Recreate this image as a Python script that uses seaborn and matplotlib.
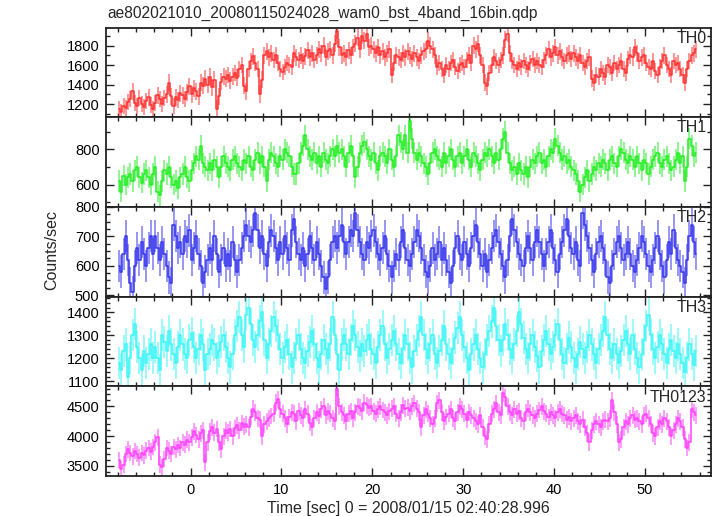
import matplotlib
matplotlib.use("Agg")
import matplotlib.pyplot as plt
import numpy as np
import pandas as pd
import seaborn as sns
from matplotlib.ticker import MultipleLocator

# light-curve bins: 0.25 s wide, first bin centre at -7.875 s
t_start, t_bin = -7.875, 0.25

th0 = [
    1150, 1120, 1180, 1160, 1220, 1250, 1330, 1210, 1180, 1260, 1200, 1170,
    1230, 1270, 1190, 1150, 1210, 1290, 1250, 1200, 1260, 1300, 1420, 1280,
    1180, 1270, 1240, 1310, 1290, 1250, 1320, 1380, 1300, 1360, 1330, 1280,
    1420, 1390, 1460, 1400, 1480, 1370, 1450, 1150, 1280, 1430, 1480, 1460,
    1500, 1440, 1480, 1520, 1470, 1560, 1600, 1390, 1330, 1560, 1640, 1690,
    1620, 1560, 1300, 1450, 1700, 1740, 1680, 1720, 1650, 1700, 1620, 1560,
    1530, 1580, 1620, 1600, 1580, 1720, 1680, 1650, 1700, 1640, 1690, 1750,
    1680, 1720, 1650, 1700, 1760, 1720, 1800, 1680, 1740, 1760, 1700, 1820,
    1950, 1780, 1700, 1720, 1680, 1750, 1700, 1780, 1820, 1880, 1760, 1900,
    1850, 1920, 1780, 1800, 1760, 1720, 1780, 1700, 1740, 1680, 1720, 1760,
    1500, 1620, 1700, 1680, 1650, 1720, 1680, 1740, 1700, 1660, 1720, 1680,
    1640, 1700, 1740, 1760, 1850, 1800, 1760, 1700, 1580, 1620, 1560, 1500,
    1600, 1560, 1620, 1650, 1580, 1540, 1600, 1620, 1580, 1650, 1700, 1620,
    1800, 1760, 1820, 1700, 1600, 1420, 1380, 1520, 1600, 1680, 1640, 1600,
    1650, 1700, 1860, 1920, 1720, 1640, 1600, 1560, 1620, 1580, 1640, 1600,
    1560, 1620, 1660, 1600, 1640, 1600, 1580, 1650, 1700, 1760, 1680, 1720,
    1780, 1700, 1740, 1680, 1640, 1700, 1720, 1660, 1720, 1680, 1640, 1700,
    1620, 1580, 1640, 1680, 1460, 1420, 1500, 1480, 1560, 1520, 1480, 1600,
    1580, 1520, 1620, 1560, 1600, 1640, 1560, 1520, 1660, 1700, 1680, 1780,
    1720, 1640, 1680, 1700, 1620, 1580, 1560, 1640, 1540, 1500, 1580, 1640,
    1700, 1600, 1560, 1500, 1640, 1600, 1620, 1560, 1500, 1420, 1560, 1640,
    1700, 1720, 1760,
]

th1 = [
    620, 560, 650, 600, 640, 660, 620, 680, 700, 640, 610, 660,
    680, 640, 600, 660, 700, 560, 540, 620, 680, 660, 700, 640,
    600, 620, 580, 640, 660, 700, 640, 620, 680, 720, 760, 740,
    820, 720, 700, 680, 720, 680, 740, 700, 640, 700, 760, 720,
    700, 680, 740, 760, 720, 700, 680, 740, 720, 760, 700, 680,
    740, 780, 720, 760, 700, 620, 740, 780, 760, 720, 700, 760,
    740, 800, 780, 760, 700, 660, 660, 720, 780, 820, 880, 800,
    760, 740, 780, 720, 760, 700, 780, 740, 720, 760, 800, 760,
    820, 780, 800, 760, 700, 780, 820, 760, 640, 700, 780, 820,
    840, 800, 760, 740, 780, 720, 680, 760, 780, 760, 720, 800,
    740, 700, 760, 880, 840, 800, 880, 780, 960, 860, 780, 740,
    780, 760, 720, 700, 660, 720, 780, 800, 760, 740, 700, 780,
    720, 760, 800, 740, 700, 760, 780, 720, 760, 800, 740, 700,
    780, 760, 720, 680, 740, 780, 760, 800, 760, 720, 780, 740,
    800, 860, 900, 780, 720, 680, 700, 660, 720, 680, 660, 700,
    640, 700, 740, 720, 760, 780, 720, 740, 700, 760, 800, 780,
    860, 820, 780, 740, 760, 720, 740, 700, 680, 660, 620, 560,
    600, 640, 680, 620, 660, 700, 680, 720, 700, 740, 720, 680,
    740, 760, 720, 700, 760, 800, 780, 740, 720, 760, 740, 700,
    760, 720, 680, 740, 720, 660, 700, 740, 760, 780, 720, 700,
    740, 760, 720, 680, 700, 740, 780, 720, 760, 620, 700, 860,
    820, 760, 780,
]

th2 = [
    600, 580, 640, 700, 620, 540, 510, 600, 660, 620, 680, 640,
    600, 660, 700, 640, 700, 660, 620, 680, 640, 600, 560, 540,
    740, 700, 660, 680, 640, 700, 680, 720, 620, 660, 700, 640,
    600, 540, 580, 620, 660, 620, 700, 640, 580, 620, 660, 600,
    640, 600, 680, 620, 580, 620, 660, 700, 740, 700, 680, 720,
    780, 720, 660, 700, 640, 600, 680, 720, 700, 660, 620, 680,
    640, 700, 660, 620, 720, 760, 680, 640, 620, 660, 600, 640,
    700, 660, 620, 680, 640, 600, 560, 520, 560, 620, 680, 700,
    660, 700, 740, 680, 640, 680, 720, 700, 780, 720, 680, 640,
    620, 680, 660, 700, 720, 680, 640, 620, 660, 700, 640, 600,
    560, 600, 640, 620, 680, 720, 660, 620, 600, 640, 680, 720,
    700, 660, 620, 580, 560, 600, 660, 620, 640, 680, 620, 660,
    620, 580, 540, 600, 660, 700, 640, 620, 680, 640, 600, 660,
    700, 740, 680, 640, 600, 640, 580, 620, 660, 700, 720, 680,
    640, 600, 560, 620, 700, 760, 720, 680, 640, 620, 600, 660,
    700, 660, 620, 680, 720, 680, 640, 600, 640, 680, 720, 660,
    620, 580, 640, 680, 720, 760, 700, 660, 640, 680, 620, 600,
    780, 740, 700, 660, 620, 580, 640, 680, 700, 660, 620, 560,
    540, 600, 640, 680, 700, 660, 620, 640, 680, 640, 600, 580,
    620, 660, 700, 680, 640, 600, 580, 620, 660, 700, 640, 600,
    560, 620, 680, 640, 720, 660, 620, 600, 580, 540, 620, 700,
    740, 680, 640,
]

th3 = [
    1180, 1150, 1230, 1260, 1120, 1200, 1300, 1350, 1250, 1200, 1150, 1230,
    1180, 1220, 1260, 1200, 1250, 1200, 1150, 1300, 1270, 1230, 1320, 1260,
    1220, 1180, 1250, 1300, 1260, 1220, 1200, 1280, 1310, 1250, 1200, 1240,
    1300, 1260, 1150, 1220, 1240, 1280, 1260, 1200, 1230, 1270, 1300, 1250,
    1200, 1160, 1220, 1300, 1340, 1380, 1300, 1250, 1390, 1420, 1350, 1280,
    1250, 1300, 1360, 1400, 1280, 1200, 1260, 1320, 1380, 1340, 1300, 1240,
    1200, 1250, 1280, 1220, 1160, 1200, 1260, 1300, 1240, 1200, 1180, 1230,
    1270, 1320, 1260, 1200, 1160, 1220, 1280, 1240, 1200, 1260, 1380, 1300,
    1220, 1150, 1260, 1300, 1260, 1220, 1280, 1340, 1300, 1250, 1210, 1260,
    1230, 1280, 1300, 1240, 1220, 1180, 1250, 1300, 1340, 1260, 1200, 1240,
    1280, 1320, 1260, 1220, 1180, 1240, 1300, 1260, 1200, 1160, 1230, 1280,
    1320, 1380, 1300, 1240, 1200, 1260, 1300, 1220, 1180, 1230, 1280, 1340,
    1260, 1220, 1180, 1240, 1290, 1330, 1380, 1300, 1250, 1200, 1150, 1220,
    1260, 1300, 1240, 1200, 1160, 1220, 1280, 1320, 1360, 1420, 1340, 1280,
    1230, 1280, 1350, 1300, 1240, 1200, 1260, 1320, 1400, 1350, 1290, 1240,
    1200, 1260, 1300, 1250, 1210, 1160, 1230, 1280, 1320, 1260, 1220, 1250,
    1300, 1350, 1280, 1220, 1180, 1240, 1290, 1250, 1200, 1160, 1220, 1270,
    1240, 1200, 1250, 1300, 1260, 1220, 1180, 1240, 1280, 1320, 1380, 1300,
    1240, 1200, 1260, 1220, 1180, 1230, 1280, 1320, 1260, 1220, 1300, 1240,
    1200, 1160, 1220, 1280, 1340, 1390, 1300, 1240, 1200, 1250, 1300, 1260,
    1220, 1180, 1240, 1280, 1230, 1200, 1260, 1220, 1180, 1140, 1200, 1260,
    1220, 1170, 1230,
]

th0123 = [
    3600, 3450, 3520, 3700, 3780, 3720, 3660, 3750, 3700, 3640, 3720, 3680,
    3760, 3800, 3740, 3820, 3900, 3980, 3520, 3480, 3620, 3800, 3760, 3700,
    3820, 3780, 3850, 3800, 3900, 3860, 3940, 3900, 3980, 4080, 4020, 3950,
    4050, 4100, 3560, 3900, 4080, 4150, 4060, 4120, 3900, 3780, 4000, 4100,
    4060, 4120, 4000, 4140, 4180, 4100, 4220, 4160, 4200, 4150, 4320, 4460,
    4400, 4300, 4280, 4000, 4200, 4250, 4300, 4340, 4380, 4560, 4620, 4450,
    4380, 4300, 4200, 4320, 4400, 4380, 4250, 4420, 4350, 4300, 4450, 4380,
    4220, 4150, 4300, 4400, 4340, 4450, 4500, 4350, 4420, 4380, 4300, 4250,
    4800, 4500, 4400, 4350, 4250, 4380, 4420, 4300, 4400, 4500, 4480, 4420,
    4560, 4520, 4480, 4500, 4420, 4380, 4450, 4500, 4440, 4400, 4350, 4420,
    4460, 4500, 4380, 4300, 4400, 4520, 4460, 4480, 4420, 4500, 4550, 4460,
    4400, 4150, 4350, 4450, 4380, 4300, 4200, 4300, 4550, 4600, 4400, 4250,
    4320, 4380, 4450, 4300, 4250, 4400, 4500, 4450, 4380, 4280, 4400, 4350,
    4300, 4250, 4200, 4350, 4150, 4000, 3950, 4200, 4380, 4450, 4550, 4400,
    4350, 4720, 4650, 4500, 4400, 4350, 4450, 4380, 4420, 4300, 4250, 4400,
    4460, 4400, 4350, 4300, 4380, 4440, 4500, 4420, 4380, 4320, 4400, 4350,
    4300, 4400, 4450, 4380, 4350, 4280, 4320, 4250, 4300, 4350, 4250, 4200,
    4280, 4150, 4050, 3900, 4100, 4200, 4250, 4200, 4150, 4250, 4280, 4250,
    4300, 4600, 4400, 4200, 3900, 3950, 4150, 4250, 4200, 4300, 4350, 4280,
    4300, 4250, 4200, 4350, 4380, 4300, 4200, 4050, 4000, 4150, 4250, 4200,
    4300, 4250, 4150, 4000, 4100, 4200, 4300, 4250, 4150, 3950, 3800, 3900,
    4450, 4400, 4350,
]

bands = ["TH0", "TH1", "TH2", "TH3", "TH0123"]
series = [th0, th1, th2, th3, th0123]
errors = [85, 60, 55, 70, 140]
colors = ["#ff3030", "#22ee22", "#3535ee", "#3cf5f5", "#ff40ff"]
ylims = [(1065, 1985), (473, 982), (495, 800), (1078, 1468), (3332, 4837)]
ymajor = [200, 200, 100, 100, 500]
yminor = [100, 100, 25, 20, 100]

sns.set_style("ticks")
plt.rcParams["font.family"] = ["Liberation Sans", "DejaVu Sans"]

fig, axes = plt.subplots(5, 1, figsize=(7.17, 5.16), dpi=100, sharex=True)
fig.subplots_adjust(left=0.1485, right=0.991, top=0.9467, bottom=0.0775, hspace=0)

for ax, name, vals, err, col, yl, ma, mi in zip(
    axes, bands, series, errors, colors, ylims, ymajor, yminor
):
    t = t_start + t_bin * np.arange(len(vals))
    df = pd.DataFrame({"time": t, "rate": vals})
    ax.errorbar(df["time"], df["rate"], yerr=err, fmt="none",
                ecolor=col, elinewidth=1.3, alpha=0.55, zorder=2)
    sns.lineplot(data=df, x="time", y="rate", ax=ax, color=col,
                 drawstyle="steps-mid", linewidth=1.1, zorder=3)
    ax.set_ylim(*yl)
    ax.set_xlim(-9.25, 57.2)
    ax.yaxis.set_major_locator(MultipleLocator(ma))
    ax.yaxis.set_minor_locator(MultipleLocator(mi))
    ax.xaxis.set_major_locator(MultipleLocator(10))
    ax.xaxis.set_minor_locator(MultipleLocator(2))
    ax.tick_params(which="both", direction="in", top=True, right=True,
                   colors="#222222", labelcolor="black", labelsize=10.5, width=1.0)
    ax.tick_params(which="major", length=6, pad=5)
    ax.tick_params(which="minor", length=3)
    ax.set_xlabel("")
    ax.set_ylabel("")
    for sp in ax.spines.values():
        sp.set_linewidth(1.3)
        sp.set_color("#222222")
    ax.text(0.993, 0.88, name, transform=ax.transAxes, ha="right", va="center",
            fontsize=11.5, zorder=5)

axes[-1].set_xlabel("Time [sec] 0 = 2008/01/15 02:40:28.996", fontsize=11.5, labelpad=3)
fig.text(52 / 717, 1 - 250 / 516, "Counts/sec", rotation=90, ha="center",
         va="center", fontsize=11.5)
fig.text(107 / 717, 1 - 13 / 516, "ae802021010_20080115024028_wam0_bst_4band_16bin.qdp",
         ha="left", va="center", fontsize=11.2)

fig.savefig("out.png", dpi=100)
